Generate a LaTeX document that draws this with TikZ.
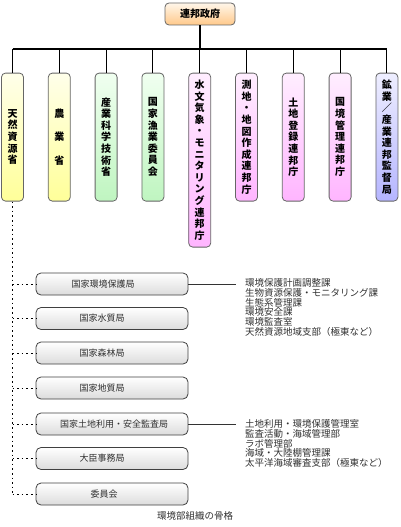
\documentclass[tikz,border=0pt]{standalone}
\usepackage{fontspec}
\setmainfont{Noto Sans CJK JP}
\definecolor{yelT}{HTML}{FFFFEA}
\definecolor{yelB}{HTML}{FFFF99}
\definecolor{grnT}{HTML}{F0FFF0}
\definecolor{grnB}{HTML}{BFF5C0}
\definecolor{pnkT}{HTML}{FFEEFF}
\definecolor{pnkB}{HTML}{FFB5FF}
\definecolor{bluT}{HTML}{EEEEFF}
\definecolor{bluB}{HTML}{B5B5FF}
\definecolor{orgT}{HTML}{FFF6EA}
\definecolor{orgB}{HTML}{FFC98A}
\definecolor{grayB}{HTML}{DCDCDC}
\definecolor{txt}{HTML}{303030}
\begin{document}
\begin{tikzpicture}[x=1pt,y=-1pt,
  colbox/.style={draw=black!60,line width=0.8pt,rounded corners=4pt,
    minimum width=22pt,minimum height=128pt,inner sep=0pt,anchor=north,
    align=center,font=\fontsize{10}{11.6}\selectfont\bfseries},
  yel/.style={top color=yelT,bottom color=yelB},
  grn/.style={top color=grnT,bottom color=grnB},
  pnk/.style={top color=pnkT,bottom color=pnkB},
  blu/.style={top color=bluT,bottom color=bluB},
  lowbox/.style={draw=black!75,line width=0.8pt,rounded corners=5pt,
    minimum width=152pt,minimum height=22pt,inner sep=0pt,
    top color=white,bottom color=grayB},
  lowtext/.style={font=\fontsize{9}{10}\selectfont,text=txt,inner sep=0pt},
  listtext/.style={font=\fontsize{9.5}{9.7}\selectfont,text=txt,align=left,
    inner sep=0pt,anchor=north west},
  tree/.style={line width=1.1pt,black},
  dots/.style={line width=0.9pt,black,dash pattern=on 1.6pt off 3pt},
  lead/.style={line width=0.9pt,black!80}]
\useasboundingbox (0,0) rectangle (400,527);

\node[draw=black!60,line width=0.8pt,rounded corners=4pt,minimum width=70pt,
  minimum height=22pt,top color=orgT,bottom color=orgB,
  font=\fontsize{10}{12}\selectfont\bfseries] (gov) at (200,14) {連邦政府};

\coordinate (bus) at (200,49);
\coordinate (busL) at (12.5,49);
\coordinate (busR) at (386.9,49);

\node[colbox,yel] (c1) at (12.5,72.7) {天\\然\\資\\源\\省};
\node[colbox,yel] (c2) at (59.3,72.7) {農\\\\業\\\\省};
\node[colbox,grn] (c3) at (106.1,72.7) {産\\業\\科\\学\\技\\術\\省};
\node[colbox,grn] (c4) at (152.9,72.7) {国\\家\\漁\\業\\委\\員\\会};
\node[colbox,pnk,minimum height=174pt] (c5) at (199.7,72.7) {水\\文\\気\\象\\・\\モ\\ニ\\タ\\リ\\ン\\グ\\連\\邦\\庁};
\node[colbox,pnk] (c6) at (246.5,72.7) {測\\地\\・\\地\\図\\作\\成\\連\\邦\\庁};
\node[colbox,pnk] (c7) at (293.3,72.7) {土\\地\\登\\録\\連\\邦\\庁};
\node[colbox,pnk] (c8) at (340.1,72.7) {国\\境\\管\\理\\連\\邦\\庁};
\node[colbox,blu] (c9) at (386.9,72.7) {鉱\\業\\／\\産\\業\\連\\邦\\監\\督\\局};

\draw[tree] (gov.south) -- (bus);
\draw[tree] (busL) -- (busR);
\foreach \i in {1,...,9} { \draw[tree] (c\i.north |- bus) -- (c\i.north); }

\node[lowbox] (b1) at (112,284) {};
\node[lowbox] (b2) at (112,318.5) {};
\node[lowbox] (b3) at (112,353) {};
\node[lowbox] (b4) at (112,388) {};
\node[lowbox] (b5) at (112,424) {};
\node[lowbox] (b6) at (112,458.5) {};
\node[lowbox] (b7) at (112,494) {};

\node[lowtext] (t1) at (103,284) {国家環境保護局};
\node[lowtext] (t2) at (102,318.5) {国家水質局};
\node[lowtext] (t3) at (102,353) {国家森林局};
\node[lowtext] (t4) at (102,388) {国家地質局};
\node[lowtext] (t5) at (114,424) {国家土地利用・安全監査局};
\node[lowtext] (t6) at (102,458.5) {大臣事務局};
\node[lowtext] (t7) at (104,494) {委員会};

\coordinate (dend) at (12.5,494);
\draw[dots] (c1.south) -- (dend);
\foreach \i in {1,...,7} { \draw[dots] (b\i.west -| c1.south) -- (b\i.west); }

\coordinate (l1) at (236,284);
\coordinate (l2) at (236,424);
\draw[lead] (b1.east) -- (l1);
\draw[lead] (b5.east) -- (l2);

\node[listtext] (list1) at (245,278.5) {環境保護計画調整課\\生物資源保護・モニタリング課\\生態系管理課\\環境安全課\\環境監査室\\天然資源地域支部（極東など）};
\node[listtext] (list2) at (245,419.5) {土地利用・環境保護管理室\\監査活動・海域管理部\\ラボ管理部\\海域・大陸棚管理課\\太平洋海域審査支部（極東など）};

\node[font=\fontsize{9.5}{11}\selectfont,text=txt,inner sep=0pt] (cap) at (195,516) {環境部組織の骨格};
\end{tikzpicture}
\end{document}
